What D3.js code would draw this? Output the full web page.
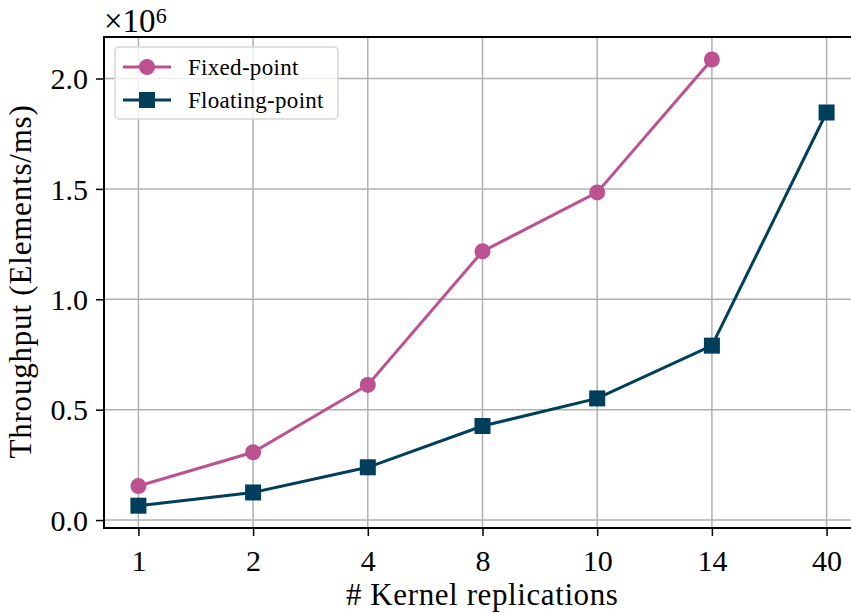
<!DOCTYPE html>
<html>
<head>
<meta charset="utf-8">
<script src="https://cdn.jsdelivr.net/npm/d3@7"></script>
<style>
  body { margin: 0; background: #fff; }
  svg { display: block; font-family: "Liberation Serif", "DejaVu Serif", serif; }
</style>
</head>
<body>
<div id="chart"></div>
<script>
// Data
const replications = ["1", "2", "4", "8", "10", "14", "40"];
const fixedPoint = [0.154, 0.307, 0.612, 1.217, 1.484, 2.086, null];
const floatingPoint = [0.065, 0.125, 0.239, 0.426, 0.551, 0.790, 1.846];
const yTicks = [0.0, 0.5, 1.0, 1.5, 2.0];

const pink = "#bc5090";
const navy = "#003f5c";

const W = 851, H = 613;
const margin = { top: 37, right: -10, bottom: 85, left: 104 };
const width = W - margin.left - margin.right;
const height = H - margin.top - margin.bottom;

const svg = d3.select("#chart")
    .append("svg")
    .attr("width", W)
    .attr("height", H);

const g = svg.append("g")
    .attr("transform", `translate(${margin.left},${margin.top})`);

// Scales
const x = d3.scalePoint()
    .domain(replications)
    .range([0, width])
    .padding(0.3);

const y = d3.scaleLinear()
    .domain([-0.036, 2.188])
    .range([height, 0]);

// Grid
g.append("g")
    .selectAll("line")
    .data(replications)
    .join("line")
    .attr("x1", d => x(d)).attr("x2", d => x(d))
    .attr("y1", 0).attr("y2", height)
    .attr("stroke", "#b0b0b0")
    .attr("stroke-width", 1.5);

g.append("g")
    .selectAll("line")
    .data(yTicks)
    .join("line")
    .attr("x1", 0).attr("x2", width)
    .attr("y1", d => y(d)).attr("y2", d => y(d))
    .attr("stroke", "#b0b0b0")
    .attr("stroke-width", 1.5);

// Axes
const xAxis = g.append("g")
    .attr("transform", `translate(0,${height})`)
    .call(d3.axisBottom(x).tickSize(8).tickPadding(8));

const yAxis = g.append("g")
    .call(d3.axisLeft(y).tickValues(yTicks).tickFormat(d3.format(".1f")).tickSize(8).tickPadding(8));

[xAxis, yAxis].forEach(a => {
    a.select(".domain").remove();
    a.selectAll(".tick line").attr("stroke", "#000").attr("stroke-width", 1.5);
    a.selectAll(".tick text")
        .attr("fill", "#000")
        .style("font-size", "30px")
        .style("font-family", "'Liberation Serif', serif");
});
xAxis.selectAll(".tick text").attr("dy", "0.9em");
yAxis.selectAll(".tick text").attr("dy", "0.34em");

// Frame
g.append("rect")
    .attr("width", width)
    .attr("height", height)
    .attr("fill", "none")
    .attr("stroke", "#000")
    .attr("stroke-width", 2);

// Lines
const line = d3.line()
    .defined(d => d.v != null)
    .x(d => x(d.k))
    .y(d => y(d.v));

const series = [
    { name: "Fixed-point", values: fixedPoint, color: pink, shape: "circle" },
    { name: "Floating-point", values: floatingPoint, color: navy, shape: "square" }
];

series.forEach(s => {
    const pts = replications.map((k, i) => ({ k, v: s.values[i] })).filter(d => d.v != null);
    g.append("path")
        .datum(pts)
        .attr("fill", "none")
        .attr("stroke", s.color)
        .attr("stroke-width", 3)
        .attr("d", line);

    if (s.shape === "circle") {
        g.selectAll(null)
            .data(pts)
            .join("circle")
            .attr("cx", d => x(d.k))
            .attr("cy", d => y(d.v))
            .attr("r", 8)
            .attr("fill", s.color);
    } else {
        g.selectAll(null)
            .data(pts)
            .join("rect")
            .attr("x", d => x(d.k) - 8)
            .attr("y", d => y(d.v) - 8)
            .attr("width", 16)
            .attr("height", 16)
            .attr("fill", s.color);
    }
});

// Legend
const legend = g.append("g").attr("transform", "translate(11,10)");
legend.append("rect")
    .attr("width", 223)
    .attr("height", 72)
    .attr("rx", 4)
    .attr("fill", "#fff")
    .attr("fill-opacity", 0.8)
    .attr("stroke", "#d6d6d6")
    .attr("stroke-width", 1.5);

series.forEach((s, i) => {
    const row = legend.append("g").attr("transform", `translate(0,${20 + i * 33})`);
    row.append("line")
        .attr("x1", 8).attr("x2", 56)
        .attr("stroke", s.color)
        .attr("stroke-width", 3);
    if (s.shape === "circle") {
        row.append("circle").attr("cx", 32).attr("r", 8).attr("fill", s.color);
    } else {
        row.append("rect").attr("x", 24).attr("y", -8).attr("width", 16).attr("height", 16).attr("fill", s.color);
    }
    row.append("text")
        .attr("x", 73)
        .attr("dy", "0.35em")
        .style("font-size", "23px")
        .style("letter-spacing", "0.3px")
        .text(s.name);
});

// Multiplier
const mult = svg.append("text")
    .attr("x", 104)
    .attr("y", 32)
    .style("font-size", "33px");
mult.append("tspan").text("\u00d710");
mult.append("tspan").attr("dy", -9).style("font-size", "22px").text("6");

// Axis labels
svg.append("text")
    .attr("x", margin.left + (826 + 34.4 - 104) / 2 - 0)
    .attr("y", 605)
    .attr("text-anchor", "middle")
    .style("font-size", "31px")
    .style("letter-spacing", "0.6px")
    .text("# Kernel replications");

svg.append("text")
    .attr("transform", `translate(31,${margin.top + height / 2 - 1}) rotate(-90)`)
    .attr("text-anchor", "middle")
    .style("font-size", "31px")
    .style("letter-spacing", "0.8px")
    .text("Throughput (Elements/ms)");
</script>
</body>
</html>
